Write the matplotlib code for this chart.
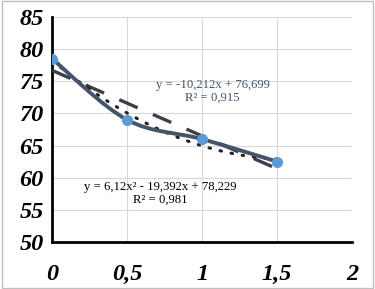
import matplotlib.pyplot as plt
import numpy as np
from matplotlib.path import Path
from matplotlib.patches import PathPatch

# Data
x_vals = [0, 0.5, 1, 1.5]
y_vals = [78.5, 69.0, 66.0, 62.5]

# trendline coefficients (from the equations on the chart)
lin_coef = [-10.212, 76.699]
quad_coef = [6.12, -19.392, 78.229]

xticks = [0, 0.5, 1, 1.5, 2]
xtick_labels = ['0', '0,5', '1', '1,5', '2']
yticks = [50, 55, 60, 65, 70, 75, 80, 85]

fig = plt.figure(figsize=(3.75, 2.89), dpi=100)
ax = fig.add_axes([0.139, 0.163, 0.80, 0.778])

xs = np.linspace(0, 1.5, 100)
ax.plot(xs, np.polyval(lin_coef, xs), color='#3a3f4a', lw=2.4, ls=(0, (6, 5)), zorder=3)
ax.plot(xs, np.polyval(quad_coef, xs), color='#222222', lw=2.2, ls=(0, (0.5, 3.2)),
        dash_capstyle='round', zorder=3)

# smoothed line through the points (Excel style), drawn as a Bezier path
px = np.array(x_vals, float)
py = np.array(y_vals, float)
verts = [(px[0], py[0])]
codes = [Path.MOVETO]
t = 1 / 6
for i in range(len(px) - 1):
    p0 = (px[max(i - 1, 0)], py[max(i - 1, 0)])
    p1 = (px[i], py[i])
    p2 = (px[i + 1], py[i + 1])
    p3 = (px[min(i + 2, len(px) - 1)], py[min(i + 2, len(px) - 1)])
    c1 = (p1[0] + (p2[0] - p0[0]) * t, p1[1] + (p2[1] - p0[1]) * t)
    c2 = (p2[0] - (p3[0] - p1[0]) * t, p2[1] - (p3[1] - p1[1]) * t)
    verts += [c1, c2, p2]
    codes += [Path.CURVE4] * 3
ax.add_patch(PathPatch(Path(verts, codes), fill=False, ec='#44546A', lw=2.8, zorder=4,
                       capstyle='round'))
ax.plot(x_vals, y_vals, 'o', color='#5B9BD5', ms=7, zorder=5)

ax.text(1.07, 74.5, 'y = -10,212x + 76,699', ha='center', va='center',
        fontsize=9.2, family='Liberation Serif', color='#44546A')
ax.text(1.07, 72.5, 'R² = 0,915', ha='center', va='center',
        fontsize=9.2, family='Liberation Serif', color='#44546A')
ax.text(0.72, 58.6, 'y = 6,12x² - 19,392x + 78,229', ha='center', va='center',
        fontsize=9.2, family='Liberation Serif', color='black')
ax.text(0.72, 56.6, 'R² = 0,981', ha='center', va='center',
        fontsize=9.2, family='Liberation Serif', color='black')

ax.set_xlim(0, 2)
ax.set_ylim(50, 85)
ax.set_xticks(xticks)
ax.set_xticklabels(xtick_labels)
ax.set_yticks(yticks)
for lbl in ax.get_xticklabels() + ax.get_yticklabels():
    lbl.set_family('Liberation Serif')
    lbl.set_fontweight('bold')
    lbl.set_fontstyle('italic')
    lbl.set_fontsize(17.5)
ax.tick_params(length=0, pad=6)
ax.tick_params(axis='x', pad=16)

ax.grid(True, color='#d9d9d9', lw=0.8)
ax.set_axisbelow(True)
for s in ['top', 'right']:
    ax.spines[s].set_visible(False)
for s in ['left', 'bottom']:
    ax.spines[s].set_linewidth(2)
    ax.spines[s].set_color('black')

# light frame around the chart
fig.patches.append(plt.Rectangle((0.005, 0.005), 0.99, 0.99, transform=fig.transFigure,
                                 fill=False, ec='#bfbfbf', lw=1))

fig.savefig('out.png', dpi=100)
